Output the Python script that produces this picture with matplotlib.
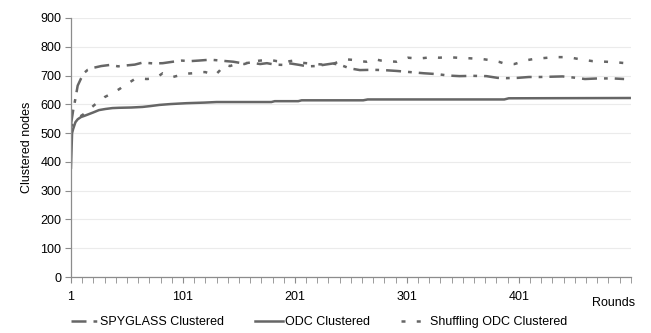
import numpy as np
import matplotlib
matplotlib.use("Agg")
import matplotlib.pyplot as plt

plt.rcParams['font.family'] = ['Liberation Sans', 'DejaVu Sans']

# ---------------- data (round, clustered nodes) ----------------
spy_rounds = [1, 3, 5, 7, 10, 13, 16, 20, 28, 36, 43, 50, 58, 65, 75, 83, 92, 100,
              107, 115, 125, 132, 140, 146, 155, 161, 170, 176, 183, 190, 197, 205,
              212, 220, 228, 235, 243, 250, 259, 270, 280, 292, 304, 316, 328, 338,
              348, 360, 372, 382, 390, 400, 410, 420, 430, 440, 450, 460, 472, 485, 495]
spy_nodes = [530, 580, 620, 665, 690, 710, 720, 726, 733, 737, 732, 735, 738, 745, 742,
             743, 748, 752, 750, 752, 755, 753, 750, 748, 742, 745, 740, 743, 738, 737,
             742, 737, 732, 733, 738, 742, 735, 725, 719, 720, 719, 716, 712, 708, 705,
             700, 698, 699, 698, 692, 691, 692, 695, 695, 696, 697, 693, 688, 690, 690, 688]

odc_rounds = [1, 2, 3, 5, 7, 10, 13, 17, 21, 26, 32, 38, 44, 55, 65, 72, 80, 90, 104,
              120, 131, 180, 183, 204, 207, 262, 266, 388, 392, 500]
odc_nodes = [380, 500, 515, 538, 548, 556, 560, 566, 572, 580, 584, 587, 588, 589, 591,
             594, 598, 601, 604, 606, 608, 608, 611, 611, 614, 614, 617, 617, 621, 622]

shuf_rounds = [1, 4, 8, 12, 16, 22, 27, 31, 36, 40, 45, 49, 54, 58, 64, 69, 74, 78, 83,
               88, 92, 97, 101, 106, 110, 116, 121, 126, 130, 134, 138, 143, 150, 156,
               161, 170, 178, 185, 193, 200, 206, 211, 220, 230, 236, 243, 248, 254, 259,
               265, 272, 278, 283, 292, 297, 302, 308, 314, 324, 330, 337, 346, 357, 369,
               378, 383, 387, 392, 397, 403, 409, 415, 421, 433, 445, 455, 467, 479, 491, 496]
shuf_nodes = [520, 545, 555, 565, 578, 598, 612, 625, 635, 643, 655, 667, 678, 688, 689,
              688, 690, 695, 708, 702, 695, 700, 705, 707, 708, 712, 712, 706, 702, 718,
              738, 733, 742, 740, 748, 752, 755, 750, 748, 752, 745, 743, 740, 737, 742,
              752, 756, 754, 750, 748, 757, 752, 750, 748, 755, 762, 760, 760, 764, 762,
              764, 762, 760, 757, 752, 748, 743, 741, 740, 747, 754, 758, 760, 764, 764,
              757, 750, 748, 745, 743]

labels = ['SPYGLASS Clustered', 'ODC Clustered', 'Shuffling ODC Clustered']
x_labels = ['1', '101', '201', '301', '401']
x_label_pos = [1, 101, 201, 301, 401]

# ---------------- plot ----------------
line_col = '#666666'
axis_col = '#8c8c8c'
fs = 9

fig = plt.figure(figsize=(6.51, 3.33), dpi=100)
ax = fig.add_axes([0.109, 0.168, 0.860, 0.778])

l1, = ax.plot(spy_rounds, spy_nodes, color=line_col, lw=1.8, dashes=(6, 2.8, 1.5, 2.8))
l2, = ax.plot(odc_rounds, odc_nodes, color=line_col, lw=1.8)
l3, = ax.plot(shuf_rounds, shuf_nodes, color=line_col, lw=1.8, dashes=(1.6, 4.5))

ax.set_xlim(1, 501)
ax.set_ylim(0, 900)
ax.set_yticks(np.arange(0, 901, 100))
ax.set_xticks(x_label_pos)
ax.set_xticklabels(x_labels)
ax.set_xticks(np.arange(1, 502, 10), minor=True)

ax.grid(axis='y', color='#ebebeb', lw=0.8)
ax.set_axisbelow(True)
for s in ['top', 'right']:
    ax.spines[s].set_visible(False)
for s in ['left', 'bottom']:
    ax.spines[s].set_color(axis_col)
    ax.spines[s].set_linewidth(0.9)

ax.tick_params(axis='y', which='major', length=4, color=axis_col, labelsize=fs, pad=3)
ax.tick_params(axis='x', which='major', length=4, color=axis_col, labelsize=fs, pad=6)
ax.tick_params(axis='x', which='minor', length=4, color=axis_col)

ax.set_ylabel('Clustered nodes', fontsize=fs, labelpad=5)
ax.text(0.97, -0.1, 'Rounds', transform=ax.transAxes, fontsize=fs,
        ha='center', va='center')

fig.legend([l1, l2, l3], labels, loc='lower center', ncol=3, frameon=False,
           fontsize=fs, handlelength=2.2, columnspacing=2.5, handletextpad=0.15,
           bbox_to_anchor=(0.49, -0.02))

fig.savefig('out.png', dpi=100)
plt.close(fig)
